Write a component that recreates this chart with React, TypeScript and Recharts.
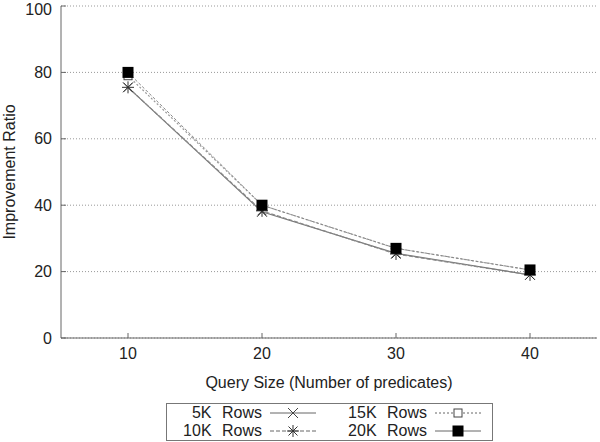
import { LineChart, Line, XAxis, YAxis, CartesianGrid, Legend } from "recharts"

const querySizes = [10, 20, 30, 40]
const rows5k = [75.5, 38, 25.5, 19]
const rows10k = [75.5, 38.3, 25.3, 19]
const rows15k = [79, 40, 27, 20.5]
const rows20k = [80, 40, 27, 20.5]
const xTicks = [10, 20, 30, 40]
const yTicks = [0, 20, 40, 60, 80, 100]

const data = querySizes.map((q, i) => ({
    q,
    r5: rows5k[i],
    r10: rows10k[i],
    r15: rows15k[i],
    r20: rows20k[i],
}))

const FONT = "'Liberation Sans', Arial, sans-serif"
const AXIS = "#666"

// marker shapes, gnuplot style
const Cross = ({ cx, cy }: any) => (
    <path d={`M${cx - 5},${cy - 5}L${cx + 5},${cy + 5}M${cx - 5},${cy + 5}L${cx + 5},${cy - 5}`} stroke="#444" strokeWidth={1} />
)
const Star = ({ cx, cy }: any) => (
    <path
        d={`M${cx - 4.5},${cy - 4.5}L${cx + 4.5},${cy + 4.5}M${cx - 4.5},${cy + 4.5}L${cx + 4.5},${cy - 4.5}M${cx - 6},${cy}L${cx + 6},${cy}M${cx},${cy - 6}L${cx},${cy + 6}`}
        stroke="#333"
        strokeWidth={1}
    />
)
const OpenSquare = ({ cx, cy }: any) => (
    <rect x={cx - 4} y={cy - 4} width={8} height={8} fill="#fff" stroke="#444" strokeWidth={1} />
)
const FilledSquare = ({ cx, cy }: any) => (
    <rect x={cx - 5.5} y={cy - 5.5} width={11} height={11} fill="#000" />
)

const legendItems = [
    { name: "5K Rows", dash: undefined, Shape: Cross },
    { name: "15K Rows", dash: "2 2", Shape: OpenSquare },
    { name: "10K Rows", dash: "4 2", Shape: Star },
    { name: "20K Rows", dash: undefined, Shape: FilledSquare },
]

function LegendBox() {
    return (
        <div
            style={{
                border: "1px solid #777",
                width: 327,
                height: 38,
                boxSizing: "border-box",
                display: "grid",
                gridTemplateColumns: "95px 55px 110px 57px",
                gridTemplateRows: "18px 18px",
                alignItems: "center",
                fontFamily: FONT,
                fontSize: 16,
                color: "#222",
                lineHeight: "18px",
            }}
        >
            {legendItems.map((it) => [
                <span key={it.name + "t"} style={{ textAlign: "right", wordSpacing: 6 }}>
                    {it.name}
                </span>,
                <svg key={it.name + "s"} width={55} height={18}>
                    <line x1={8} x2={54} y1={9} y2={9} stroke="#666" strokeDasharray={it.dash} />
                    <it.Shape cx={31} cy={9} />
                </svg>,
            ])}
        </div>
    )
}

export default function App() {
    return (
        <div style={{ position: "absolute", left: 0, top: 0, background: "#fff" }}>
            <LineChart width={600} height={442} data={data} margin={{ top: 6, right: 3, left: 0, bottom: 54 }}>
                <CartesianGrid horizontal vertical={false} stroke="#999" strokeDasharray="1 2" />
                <XAxis
                    dataKey="q"
                    type="number"
                    domain={[5, 45]}
                    ticks={xTicks}
                    height={50}
                    stroke={AXIS}
                    tickSize={-5}
                    tickMargin={15}
                    tick={{ fill: "#222", fontSize: 16, fontFamily: FONT }}
                    label={{ value: "Query Size (Number of predicates)", position: "insideBottom", offset: 0, fill: "#222", fontSize: 16, fontFamily: FONT }}
                />
                <XAxis xAxisId="top" orientation="top" dataKey="q" type="number" domain={[5, 45]} ticks={xTicks} height={0} stroke={AXIS} tickSize={-5} tickFormatter={() => ""} />
                <YAxis
                    domain={[0, 100]}
                    ticks={yTicks}
                    width={61}
                    stroke={AXIS}
                    tickSize={-5}
                    tickMargin={14}
                    tick={{ fill: "#222", fontSize: 16, fontFamily: FONT }}
                    label={{ value: "Improvement Ratio", angle: -90, position: "insideLeft", offset: 9, fill: "#222", fontSize: 16, fontFamily: FONT, style: { textAnchor: "middle" } }}
                />
                <YAxis yAxisId="right" orientation="right" domain={[0, 100]} ticks={yTicks} width={0} stroke={AXIS} tickSize={-5} tickFormatter={() => ""} />
                <Legend
                    layout="horizontal"
                    verticalAlign="middle"
                    align="center"
                    wrapperStyle={{ left: 166, top: 403, width: 327 }}
                    content={() => <LegendBox />}
                />
                <Line dataKey="r5" name="5K Rows" stroke="#777" strokeWidth={1.2} dot={<Cross />} isAnimationActive={false} />
                <Line dataKey="r10" name="10K Rows" stroke="#888" strokeWidth={1.2} strokeDasharray="4 2" dot={<Star />} isAnimationActive={false} />
                <Line dataKey="r15" name="15K Rows" stroke="#999" strokeWidth={1.2} strokeDasharray="2 2" dot={<OpenSquare />} isAnimationActive={false} />
                <Line dataKey="r20" name="20K Rows" stroke="#888" strokeWidth={1} strokeDasharray="3 2" dot={<FilledSquare />} isAnimationActive={false} />
            </LineChart>
        </div>
    )
}
